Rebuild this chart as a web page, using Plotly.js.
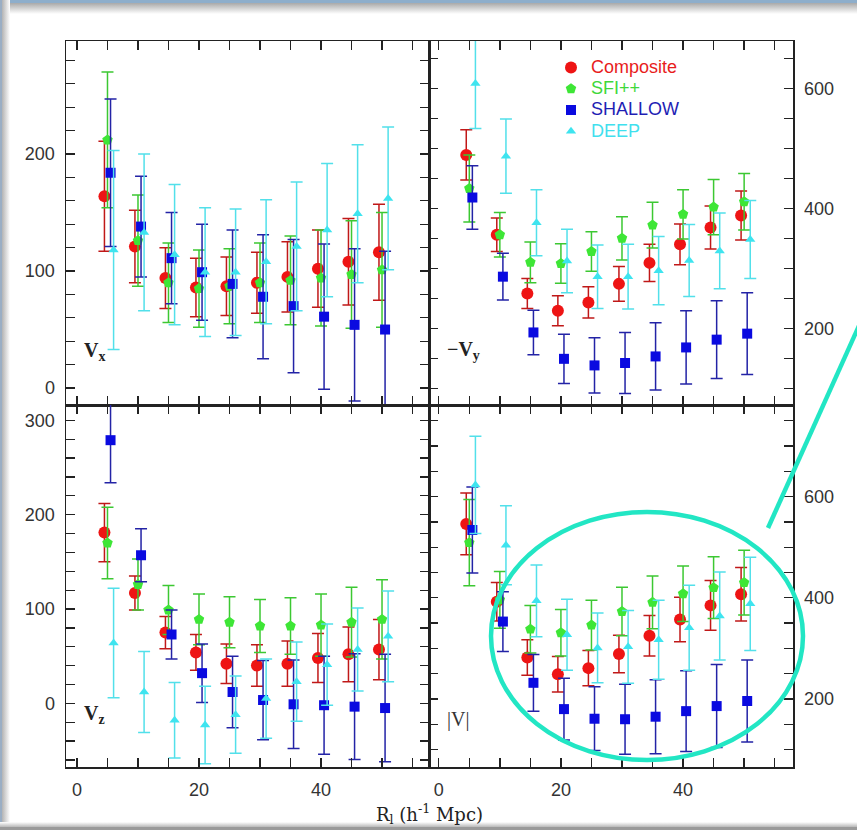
<!DOCTYPE html>
<html>
<head>
<meta charset="utf-8">
<script src="https://cdn.plot.ly/plotly-3.0.1.min.js"></script>
<style>
  html, body { margin: 0; padding: 0; background: #ffffff; }
  #wrap { position: relative; width: 857px; height: 830px; overflow: hidden; background: #fff; }
  #chart { position: absolute; left: 0; top: 0; width: 857px; height: 830px; z-index: 2; }
  .deco { position: absolute; z-index: 1; }
</style>
</head>
<body>
<div id="wrap">
  <div class="deco" style="left:0;top:0;width:857px;height:3px;background:#8eaecb;"></div>
  <div class="deco" style="left:0;top:3px;width:857px;height:11px;background:linear-gradient(#a9a9a9,#ffffff);"></div>
  <div class="deco" style="left:0;top:0;width:2px;height:830px;background:#9aaec4;"></div>
  <div class="deco" style="left:2px;top:0;width:8px;height:830px;background:linear-gradient(to right,#b3b3b3,#ffffff);"></div>
  <div class="deco" style="left:0;top:822px;width:857px;height:5px;background:linear-gradient(#ffffff,#b8b8b8);"></div>
  <div class="deco" style="left:0;top:827px;width:857px;height:3px;background:#9a9a9a;"></div>
  <div id="chart"></div>
</div>
<script>
// ---- data ----
var radii = [5, 10, 15, 20, 25, 30, 35, 40, 45, 50];
var seriesNames = ['Composite', 'SFI++', 'SHALLOW', 'DEEP'];

// Panel Vx
var vxComposite = [164, 121, 94, 86, 87, 90, 95, 102, 108, 116];
var vxCompositeErr = [47, 31, 26, 25, 25, 26, 30, 33, 37, 41];
var vxSFI = [212, 126, 90, 85, 87, 90, 92, 94, 97, 101];
var vxSFIErr = [58, 39, 34, 33, 32, 34, 38, 41, 46, 49];
var vxShallow = [184, 138, 111, 99, 89, 78, 70, 61, 54, 50];
var vxShallowErr = [63, 43, 39, 41, 46, 53, 57, 62, 65, 67];
var vxDeep = [118, 133, 114, 99, 99, 108, 121, 135, 149, 162];
var vxDeepErr = [85, 67, 60, 55, 54, 53, 55, 57, 59, 61];

// Panel -Vy
var vyComposite = [489, 356, 258, 229, 243, 274, 309, 340, 368, 388];
var vyCompositeErr = [42, 28, 25, 25, 26, 29, 31, 34, 36, 41];
var vySFI = [433, 356, 310, 308, 328, 350, 372, 390, 402, 411];
var vySFIErr = [56, 37, 34, 33, 33, 36, 38, 41, 46, 47];
var vyShallow = [418, 286, 193, 149, 138, 142, 153, 168, 181, 191];
var vyShallowErr = [53, 39, 37, 41, 46, 51, 56, 61, 65, 68];
var vyDeep = [608, 487, 376, 312, 286, 286, 296, 313, 329, 348];
var vyDeepErr = [75, 62, 55, 53, 53, 54, 57, 60, 63, 65];

// Panel Vz
var vzComposite = [181, 117, 75, 54, 42, 40, 42, 48, 52, 57];
var vzCompositeErr = [31, 18, 17, 19, 21, 22, 24, 26, 29, 32];
var vzSFI = [170, 126, 99, 89, 86, 82, 82, 83, 86, 89];
var vzSFIErr = [38, 27, 26, 27, 27, 28, 30, 33, 37, 42];
var vzShallow = [279, 157, 73, 32, 12, 3.5, -1, -2, -3.5, -5];
var vzShallowErr = [45, 28, 26, 31, 38, 42, 47, 52, 56, 57];
var vzDeep = [64, 12, -18, -23, -12, 5, 23, 41, 57, 71];
var vzDeepErr = [58, 43, 40, 41, 41, 42, 42, 43, 44, 48];

// Panel |V|
var vmComposite = [546, 392, 282, 249, 261, 289, 325, 357, 385, 407];
var vmCompositeErr = [61, 38, 35, 35, 35, 37, 40, 44, 49, 53];
var vmSFI = [509, 396, 338, 331, 346, 373, 391, 408, 420, 430];
var vmSFIErr = [85, 56, 47, 46, 49, 48, 52, 55, 61, 64];
var vmShallow = [534, 353, 232, 180, 161, 160, 165, 176, 186, 196];
var vmShallowErr = [85, 59, 56, 61, 63, 69, 73, 80, 82, 81];
var vmDeep = [623, 504, 394, 327, 301, 303, 317, 341, 364, 388];
var vmDeepErr = [96, 78, 71, 70, 69, 72, 78, 84, 87, 92];

var panelLabels = ['<b>V<sub>x</sub></b>', '<b>\u2212V<sub>y</sub></b>', '<b>V<sub>z</sub></b>', '|V|'];
var xTitle = 'R<sub>l</sub> (h<sup>-1</sup> Mpc)';

// ---- styles ----
var styles = [
  {offset: -0.5, color: '#ee1414', bar: '#c01818', symbol: 'circle', size: 12, text: '#e81c1c'},
  {offset: 0.0, color: '#3ee636', bar: '#3cc832', symbol: 'pentagon', size: 11, text: '#3ed83a'},
  {offset: 0.5, color: '#0a0ae0', bar: '#2323a6', symbol: 'square', size: 10, text: '#1e1eb4'},
  {offset: 1.0, color: '#3ee4ef', bar: '#52e0ea', symbol: 'triangle-up', size: 9, text: '#40e0ee'}
];

var panels = [
  {x: 'x', y: 'y', data: [[vxComposite, vxCompositeErr], [vxSFI, vxSFIErr], [vxShallow, vxShallowErr], [vxDeep, vxDeepErr]]},
  {x: 'x2', y: 'y2', data: [[vyComposite, vyCompositeErr], [vySFI, vySFIErr], [vyShallow, vyShallowErr], [vyDeep, vyDeepErr]]},
  {x: 'x3', y: 'y3', data: [[vzComposite, vzCompositeErr], [vzSFI, vzSFIErr], [vzShallow, vzShallowErr], [vzDeep, vzDeepErr]]},
  {x: 'x4', y: 'y4', data: [[vmComposite, vmCompositeErr], [vmSFI, vmSFIErr], [vmShallow, vmShallowErr], [vmDeep, vmDeepErr]]}
];

var traces = [];
panels.forEach(function (p, pi) {
  p.data.forEach(function (d, si) {
    var st = styles[si];
    traces.push({
      type: 'scatter', mode: 'markers',
      xaxis: p.x, yaxis: p.y,
      x: radii.map(function (r) { return r + st.offset; }),
      y: d[0],
      error_y: {type: 'data', array: d[1], visible: true, color: st.bar, thickness: 1.5, width: 6},
      marker: {color: st.color, symbol: st.symbol, size: st.size, line: {width: 0}},
      name: '<span style="font-size:18px;color:' + st.text + '">' + seriesNames[si] + '</span>',
      showlegend: pi === 1,
      hoverinfo: 'skip'
    });
  });
});

// ---- layout ----
var W = 857, H = 830, L = 66, R = 793, T = 41, B = 767;
var pw = R - L, ph = B - T;
function px(xp) { return (xp - L) / pw; }
function py(yp) { return (B - yp) / ph; }
var xSplit = px(429), ySplit = py(405);

var lineCol = '#222222';
var tickFont = {family: 'Liberation Sans, Arial, sans-serif', size: 18, color: '#333333'};
function xAxis(dom, anchor, rng, labels) {
  return {
    domain: dom, anchor: anchor, range: rng,
    showgrid: false, zeroline: false,
    showline: true, linecolor: lineCol, linewidth: 1.5, mirror: 'allticks',
    ticks: 'inside', ticklen: 9, tickwidth: 1.3, tickcolor: lineCol,
    tick0: 0, dtick: 20,
    minor: {dtick: 5, tick0: 0, ticks: 'inside', ticklen: 9, tickwidth: 1.3, tickcolor: lineCol, showgrid: false},
    showticklabels: labels, tickfont: tickFont, ticklabelstandoff: 6
  };
}
function yAxis(dom, anchor, rng, side, dt, mdt) {
  return {
    domain: dom, anchor: anchor, range: rng, side: side,
    showgrid: false, zeroline: false,
    showline: true, linecolor: lineCol, linewidth: 1.5, mirror: 'allticks',
    ticks: 'inside', ticklen: 9, tickwidth: 1.3, tickcolor: lineCol,
    tick0: 0, dtick: dt,
    minor: {dtick: mdt, tick0: 0, ticks: 'inside', ticklen: 9, tickwidth: 1.3, tickcolor: lineCol, showgrid: false},
    showticklabels: true, tickfont: tickFont, ticklabelstandoff: 6
  };
}

var labelFont = {family: 'Liberation Serif, Times New Roman, serif', size: 20, color: '#222'};
var layout = {
  width: W, height: H,
  margin: {l: L, r: W - R, t: T, b: H - B, pad: 0},
  paper_bgcolor: 'rgba(0,0,0,0)', plot_bgcolor: '#ffffff',
  showlegend: true,
  legend: {
    x: px(551), y: py(52), xanchor: 'left', yanchor: 'top',
    bgcolor: 'rgba(0,0,0,0)', borderwidth: 0,
    font: {family: 'Liberation Sans, Arial, sans-serif', size: 14, color: '#333'},
    itemwidth: 30, tracegroupgap: 0, traceorder: 'normal'
  },
  xaxis: xAxis([0, xSplit], 'y', [-1.8, 57.7], false),
  xaxis2: xAxis([xSplit, 1], 'y2', [-1.6, 58.0], false),
  xaxis3: xAxis([0, xSplit], 'y3', [-1.8, 57.7], true),
  xaxis4: xAxis([xSplit, 1], 'y4', [-1.6, 58.0], true),
  yaxis: yAxis([ySplit, 1], 'x', [-14.5, 296.6], 'left', 100, 20),
  yaxis2: yAxis([ySplit, 1], 'x2', [72, 679], 'right', 200, 50),
  yaxis3: yAxis([0, ySplit], 'x3', [-67.5, 316.3], 'left', 100, 20),
  yaxis4: yAxis([0, ySplit], 'x4', [65.6, 781], 'right', 200, 50),
  annotations: [
    {xref: 'x domain', yref: 'y domain', x: 0.045, y: 0.146, xanchor: 'left', yanchor: 'middle', text: panelLabels[0], showarrow: false, font: labelFont},
    {xref: 'x2 domain', yref: 'y2 domain', x: 0.045, y: 0.151, xanchor: 'left', yanchor: 'middle', text: panelLabels[1], showarrow: false, font: labelFont},
    {xref: 'x3 domain', yref: 'y3 domain', x: 0.045, y: 0.146, xanchor: 'left', yanchor: 'middle', text: panelLabels[2], showarrow: false, font: labelFont},
    {xref: 'x4 domain', yref: 'y4 domain', x: 0.045, y: 0.13, xanchor: 'left', yanchor: 'middle', text: panelLabels[3], showarrow: false, font: {family: labelFont.family, size: 20, color: '#333'}},
    {xref: 'paper', yref: 'paper', x: px(429), y: py(814), xanchor: 'center', yanchor: 'middle', text: xTitle, showarrow: false, font: {family: 'DejaVu Serif, serif', size: 18, color: '#222'}}
  ],
  shapes: [
    {type: 'circle', xref: 'paper', yref: 'paper', x0: px(491), x1: px(803), y0: py(760), y1: py(512), line: {color: '#22e6c4', width: 4.5}},
    {type: 'line', xref: 'paper', yref: 'paper', x0: px(768), y0: py(528), x1: px(862), y1: py(319), line: {color: '#22e6c4', width: 4.5}}
  ]
};

Plotly.newPlot('chart', traces, layout, {staticPlot: true, displayModeBar: false});
</script>
</body>
</html>
